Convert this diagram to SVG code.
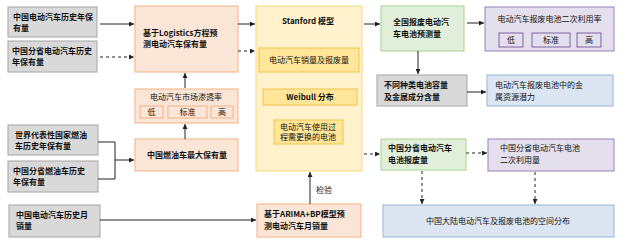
<svg xmlns="http://www.w3.org/2000/svg" width="640" height="250" viewBox="0 0 640 250">
<defs>
<marker id="ah" viewBox="0 0 6 6" refX="6" refY="3" markerWidth="5" markerHeight="5" orient="auto"><path d="M0,0 L6,3 L0,6 z" fill="#222"/></marker>
<style>
text{font-family:"Noto Sans CJK SC","Liberation Sans",sans-serif;fill:#111;font-size:8px}
.b{font-weight:bold}
.gray{fill:#d9d9d9;stroke:#a6a6a6;stroke-width:1}
.org{fill:#fbe5d6;stroke:#f4b183;stroke-width:1}
.stf{fill:#fff2cc;stroke:#f7d87c;stroke-width:1}
.yin{fill:#ffe699;stroke:#f2c14e;stroke-width:1}
.grn{fill:#e2efda;stroke:#a9d18e;stroke-width:1}
.pur{fill:#e4dfec;stroke:#9a80bd;stroke-width:1}
.pin{fill:#e4dfec;stroke:#8064a2;stroke-width:1}
.blu{fill:#dce6f2;stroke:#95b3d7;stroke-width:1}
.ln{fill:none;stroke:#222;stroke-width:1}
.ds{stroke-dasharray:3,3}
</style>
</defs>
<g id="n1"><rect class="gray" x="8" y="7" width="89" height="30"/><text class="b" x="13" y="20">中国电动汽车历史年保</text><text class="b" x="13" y="31">有量</text></g>
<g id="n2"><rect class="gray" x="8" y="41" width="89" height="31"/><text class="b" x="12" y="54">中国分省电动汽车历史</text><text class="b" x="12" y="65">年保有量</text></g>
<g id="n3"><rect class="org" x="135" y="6" width="103" height="66"/><text class="b" x="143" y="36" font-size="9.5">基于Logistics方程预</text><text class="b" x="143" y="47" font-size="9.5">测电动汽车保有量</text></g>
<g id="n4"><rect class="org" x="135" y="89" width="103" height="34"/><text x="186" y="100" text-anchor="middle">电动汽车市场渗透率</text>
<rect class="org" x="140" y="106" width="23" height="12"/><text x="151.5" y="115" text-anchor="middle">低</text>
<rect class="org" x="168" y="106" width="39" height="12"/><text x="187.5" y="115" text-anchor="middle">标准</text>
<rect class="org" x="211" y="106" width="22" height="12"/><text x="222" y="115" text-anchor="middle">高</text></g>
<g id="n5"><rect class="gray" x="8" y="125" width="90" height="30"/><text class="b" x="15" y="138">世界代表性国家燃油</text><text class="b" x="15" y="149">车历史年保有量</text></g>
<g id="n6"><rect class="gray" x="8" y="161" width="90" height="31"/><text class="b" x="13" y="174">中国分省燃油车历史</text><text class="b" x="13" y="185">年保有量</text></g>
<g id="n7"><rect class="org" x="135" y="139" width="103" height="32"/><text class="b" x="187" y="158" font-size="9" text-anchor="middle">中国燃油车最大保有量</text></g>
<g id="n8"><rect class="gray" x="9" y="205" width="91" height="32"/><text class="b" x="16" y="218">中国电动汽车历史月</text><text class="b" x="16" y="229">销量</text></g>
<g id="n9"><rect class="stf" x="256" y="6" width="106" height="165"/><text class="b" x="308" y="24" font-size="10" text-anchor="middle">Stanford 模型</text>
<rect class="yin" x="259" y="48" width="100" height="24"/><text x="309" y="63" font-size="9" text-anchor="middle">电动汽车销量及报废量</text>
<rect class="yin" x="263" y="89" width="94" height="16"/><text class="b" x="310" y="100" font-size="9" text-anchor="middle">Weibull 分布</text>
<rect class="yin" x="274" y="120" width="69" height="24"/><text x="308" y="130" font-size="7.5" text-anchor="middle">电动汽车使用过</text><text x="308" y="140" font-size="7.5" text-anchor="middle">程需更换的电池</text></g>
<g id="n10"><rect class="org" x="257" y="204" width="104" height="33"/><text class="b" x="264" y="217" font-size="9">基于ARIMA+BP模型预</text><text class="b" x="264" y="229" font-size="9">测电动汽车月销量</text></g>
<g id="n11"><rect class="grn" x="381" y="6" width="83" height="45"/><text class="b" x="393" y="25" font-size="9">全国报废电动汽</text><text class="b" x="393" y="37" font-size="9">车电池预测量</text></g>
<g id="n12"><rect class="pur" x="485" y="7" width="129" height="44"/><text x="549.5" y="22" font-size="9" text-anchor="middle">电动汽车报废电池二次利用率</text>
<rect class="pin" x="499" y="33" width="24" height="14"/><text x="511" y="43" text-anchor="middle">低</text>
<rect class="pin" x="532" y="33" width="38" height="14"/><text x="551" y="43" text-anchor="middle">标准</text>
<rect class="pin" x="577" y="33" width="24" height="14"/><text x="589" y="43" text-anchor="middle">高</text></g>
<g id="n13"><rect class="gray" x="377" y="75" width="90" height="31"/><text class="b" x="384" y="88" font-size="9">不同种类电池容量</text><text class="b" x="384" y="100" font-size="9">及金属成分含量</text></g>
<g id="n14"><rect class="blu" x="487" y="75" width="126" height="31"/><text x="495" y="88" font-size="9">电动汽车报废电池中的金</text><text x="495" y="100" font-size="9">属资源潜力</text></g>
<g id="n15"><rect class="grn" x="381" y="139" width="85" height="31"/><text class="b" x="388" y="151" font-size="9">中国分省电动汽车</text><text class="b" x="388" y="163" font-size="9">电池报废量</text></g>
<g id="n16"><rect class="pur" x="488" y="139" width="126" height="32"/><text x="500" y="151" font-size="9">中国分省电动汽车电池</text><text x="500" y="163" font-size="9">二次利用量</text></g>
<g id="n17"><rect class="blu" x="383" y="205" width="231" height="32"/><text x="498" y="224" font-size="9" text-anchor="middle">中国大陆电动汽车及报废电池的空间分布</text></g>
<g id="connectors">
<path class="ln" d="M100,24 H134" marker-end="url(#ah)"/>
<path class="ln ds" d="M100,57 H134" marker-end="url(#ah)"/>
<path class="ln" d="M185,88 V73" marker-end="url(#ah)"/>
<path class="ln" d="M185,139 V124" marker-end="url(#ah)"/>
<path class="ln" d="M98,142 H115 V179 H98"/>
<path class="ln" d="M115,160 H134" marker-end="url(#ah)"/>
<path class="ln" d="M100,220 H256" marker-end="url(#ah)"/>
<path class="ln" d="M238,24 H255" marker-end="url(#ah)"/>
<path class="ln ds" d="M238,51 H255" marker-end="url(#ah)"/>
<path class="ln" d="M310,204 V172" marker-end="url(#ah)"/>
<text x="316" y="193" font-size="9">检验</text>
<path class="ln" d="M364,24 H380" marker-end="url(#ah)"/>
<path class="ln ds" d="M364,154 H380" marker-end="url(#ah)"/>
<path class="ln" d="M467,23 H484" marker-end="url(#ah)"/>
<path class="ln" d="M418,51 V74" marker-end="url(#ah)"/>
<path class="ln" d="M467,92 H486" marker-end="url(#ah)"/>
<path class="ln ds" d="M466,153 H487" marker-end="url(#ah)"/>
<path class="ln ds" d="M422,171 V204" marker-end="url(#ah)"/>
<path class="ln ds" d="M535,172 V204" marker-end="url(#ah)"/>
</g>
</svg>
